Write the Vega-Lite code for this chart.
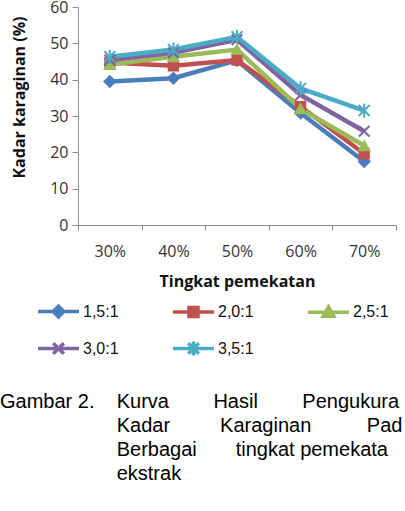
{
  "$schema": "https://vega.github.io/schema/vega-lite/v6.json",
  "autosize": "none",
  "width": 318,
  "height": 218,
  "padding": {"left": 78, "top": 7, "right": 9, "bottom": 286},
  "background": "white",
  "config": {
    "view": {"stroke": null},
    "axis": {"labelFont": "Open Sans", "titleFont": "Open Sans", "labelColor": "#333333", "titleColor": "#111111", "domainColor": "#8c8c8c", "tickColor": "#8c8c8c", "grid": false}
  },
  "title": {
    "text": [
      "Gambar 2.\u00a0\u00a0\u00a0\u00a0Kurva\u00a0\u00a0\u00a0\u00a0\u00a0\u00a0\u00a0\u00a0Hasil\u00a0\u00a0\u00a0\u00a0\u00a0\u00a0\u00a0\u00a0Pengukura",
      "\u200b\u00a0\u00a0\u00a0\u00a0\u00a0\u00a0\u00a0\u00a0\u00a0\u00a0\u00a0\u00a0\u00a0\u00a0\u00a0\u00a0\u00a0\u00a0\u00a0\u00a0\u00a0Kadar\u00a0\u00a0\u00a0\u00a0\u00a0\u00a0\u00a0\u00a0\u00a0Karaginan\u00a0\u00a0\u00a0\u00a0\u00a0\u00a0\u00a0\u00a0\u00a0\u00a0Pad",
      "\u200b\u00a0\u00a0\u00a0\u00a0\u00a0\u00a0\u00a0\u00a0\u00a0\u00a0\u00a0\u00a0\u00a0\u00a0\u00a0\u00a0\u00a0\u00a0\u00a0\u00a0\u00a0Berbagai\u00a0\u00a0\u00a0\u00a0\u00a0\u00a0\u00a0tingkat pemekata",
      "\u200b\u00a0\u00a0\u00a0\u00a0\u00a0\u00a0\u00a0\u00a0\u00a0\u00a0\u00a0\u00a0\u00a0\u00a0\u00a0\u00a0\u00a0\u00a0\u00a0\u00a0\u00a0ekstrak"
    ],
    "orient": "bottom",
    "anchor": "start",
    "frame": "group",
    "dx": -78,
    "offset": 29,
    "font": "Liberation Sans",
    "fontSize": 20,
    "fontWeight": "normal",
    "lineHeight": 24,
    "color": "#000000"
  },
  "data": {
    "values": [
      {"konsentrasi": "30%", "rasio": "1,5:1", "kadar": 39.5},
      {"konsentrasi": "40%", "rasio": "1,5:1", "kadar": 40.4},
      {"konsentrasi": "50%", "rasio": "1,5:1", "kadar": 45.3},
      {"konsentrasi": "60%", "rasio": "1,5:1", "kadar": 30.8},
      {"konsentrasi": "70%", "rasio": "1,5:1", "kadar": 17.5},
      {"konsentrasi": "30%", "rasio": "2,0:1", "kadar": 44.7},
      {"konsentrasi": "40%", "rasio": "2,0:1", "kadar": 43.8},
      {"konsentrasi": "50%", "rasio": "2,0:1", "kadar": 45.4},
      {"konsentrasi": "60%", "rasio": "2,0:1", "kadar": 32.6},
      {"konsentrasi": "70%", "rasio": "2,0:1", "kadar": 19.6},
      {"konsentrasi": "30%", "rasio": "2,5:1", "kadar": 44.2},
      {"konsentrasi": "40%", "rasio": "2,5:1", "kadar": 46.3},
      {"konsentrasi": "50%", "rasio": "2,5:1", "kadar": 48.3},
      {"konsentrasi": "60%", "rasio": "2,5:1", "kadar": 32.0},
      {"konsentrasi": "70%", "rasio": "2,5:1", "kadar": 21.8},
      {"konsentrasi": "30%", "rasio": "3,0:1", "kadar": 45.4},
      {"konsentrasi": "40%", "rasio": "3,0:1", "kadar": 47.4},
      {"konsentrasi": "50%", "rasio": "3,0:1", "kadar": 51.0},
      {"konsentrasi": "60%", "rasio": "3,0:1", "kadar": 35.8},
      {"konsentrasi": "70%", "rasio": "3,0:1", "kadar": 25.8},
      {"konsentrasi": "30%", "rasio": "3,5:1", "kadar": 46.3},
      {"konsentrasi": "40%", "rasio": "3,5:1", "kadar": 48.3},
      {"konsentrasi": "50%", "rasio": "3,5:1", "kadar": 51.8},
      {"konsentrasi": "60%", "rasio": "3,5:1", "kadar": 37.6},
      {"konsentrasi": "70%", "rasio": "3,5:1", "kadar": 31.5}
    ]
  },
  "encoding": {
    "x": {
      "field": "konsentrasi", "type": "ordinal",
      "scale": {"type": "band", "paddingInner": 0, "paddingOuter": 0},
      "axis": {"title": "Tingkat pemekatan", "labelAngle": 0, "tickBand": "extent", "tickSize": 5, "labelFontSize": 16, "labelPadding": 13, "titleFontSize": 16, "titleFontWeight": "bold", "titlePadding": 14}
    },
    "y": {
      "field": "kadar", "type": "quantitative",
      "scale": {"domain": [0, 60], "nice": false},
      "axis": {"title": "Kadar karaginan (%)", "values": [0, 10, 20, 30, 40, 50, 60], "tickSize": 6, "labelFontSize": 16, "labelPadding": 4, "titleFontSize": 16, "titleFontWeight": "bold", "titlePadding": 22, "titleY": 90}
    }
  },
  "layer": [
    {
      "mark": {"type": "line", "strokeWidth": 4.5},
      "encoding": {
        "color": {
          "field": "rasio", "type": "nominal",
          "scale": {"domain": ["1,5:1", "2,0:1", "2,5:1", "3,0:1", "3,5:1"], "range": ["#4a7ebb", "#c0504d", "#9bbb59", "#8064a2", "#4bacc6"]},
          "legend": {
            "title": null,
            "orient": "none",
            "legendX": -42,
            "legendY": 282,
            "direction": "horizontal",
            "columns": 3,
            "columnPadding": 47,
            "rowPadding": 2,
            "symbolSize": 1681,
            "symbolStrokeWidth": 3.5,
            "labelOffset": 2,
            "labelFont": "Liberation Sans",
            "labelFontSize": 16,
            "labelColor": "#111111",
            "padding": 0,
            "encode": {
              "symbols": {
                "update": {
                  "shape": {"signal": "datum.value === '1,5:1' ? 'M-1,0H1M0,-0.26L0.26,0L0,0.26L-0.26,0Z' : datum.value === '2,0:1' ? 'M-1,0H1M-0.22,-0.22H0.22V0.22H-0.22Z' : datum.value === '2,5:1' ? 'M-1,0H1M0,-0.26L0.26,0.2L-0.26,0.2Z' : datum.value === '3,0:1' ? 'M-1,0H1M-0.26,-0.26L0.26,0.26M-0.26,0.26L0.26,-0.26' : 'M-1,0H1M-0.26,-0.26L0.26,0.26M-0.26,0.26L0.26,-0.26M0,-0.34L0,0.34'"},
                  "fill": {"signal": "scale('color', datum.value)"},
                  "stroke": {"signal": "scale('color', datum.value)"},
                  "strokeWidth": {"value": 3.5},
                  "size": {"value": 1681}
                }
              }
            }
          }
        }
      }
    },
    {
      "transform": [{"filter": "datum.rasio === '1,5:1'"}],
      "mark": {"type": "point", "shape": "diamond", "filled": true, "opacity": 1, "fill": "#4a7ebb", "stroke": "#4a7ebb", "strokeWidth": 1.5, "size": 130}
    },
    {
      "transform": [{"filter": "datum.rasio === '2,0:1'"}],
      "mark": {"type": "point", "shape": "square", "filled": true, "opacity": 1, "fill": "#c0504d", "stroke": "#c0504d", "strokeWidth": 1.5, "size": 95}
    },
    {
      "transform": [{"filter": "datum.rasio === '2,5:1'"}],
      "mark": {"type": "point", "shape": "triangle-up", "filled": true, "opacity": 1, "fill": "#9bbb59", "stroke": "#9bbb59", "strokeWidth": 1.5, "size": 120}
    },
    {
      "transform": [{"filter": "datum.rasio === '3,0:1'"}],
      "mark": {"type": "point", "shape": "M-1,-1L1,1M-1,1L1,-1", "filled": false, "opacity": 1, "stroke": "#8064a2", "strokeWidth": 2, "size": 110}
    },
    {
      "transform": [{"filter": "datum.rasio === '3,5:1'"}],
      "mark": {"type": "point", "shape": "M-1,-1L1,1M-1,1L1,-1M0,-1.3L0,1.3", "filled": false, "opacity": 1, "stroke": "#4bacc6", "strokeWidth": 2, "size": 120}
    }
  ]
}
